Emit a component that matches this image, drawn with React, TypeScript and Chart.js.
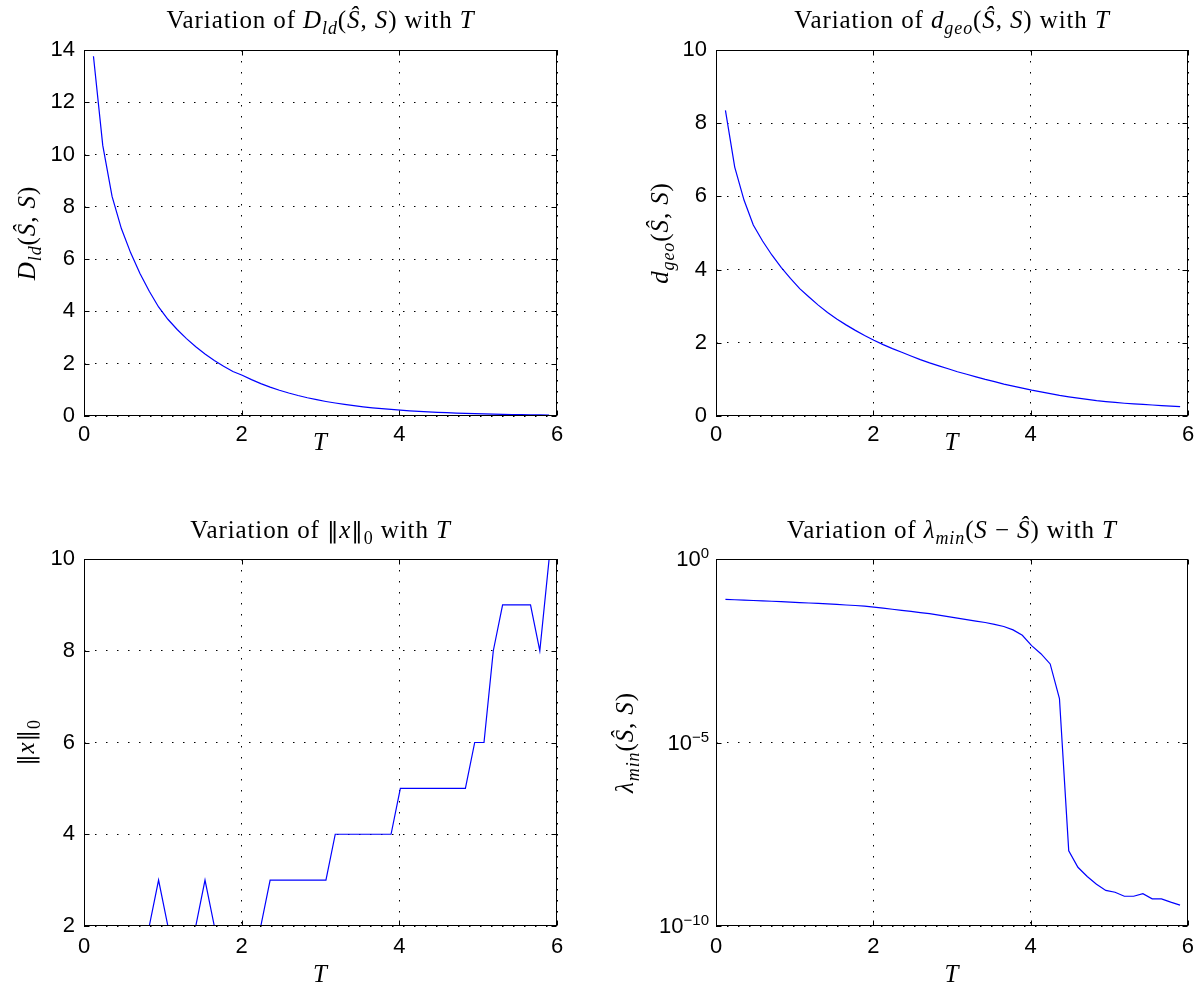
import React, { useEffect, useRef } from "react";
import { Chart, registerables } from "chart.js";

Chart.register(...registerables);

// ---------- data ----------
const T = [
  0.12, 0.238, 0.356, 0.474, 0.592, 0.71, 0.828, 0.946, 1.064, 1.182,
  1.3, 1.418, 1.535, 1.653, 1.771, 1.889, 2.007, 2.125, 2.243, 2.361,
  2.479, 2.597, 2.715, 2.833, 2.951, 3.069, 3.187, 3.305, 3.423, 3.541,
  3.659, 3.777, 3.895, 4.013, 4.131, 4.249, 4.367, 4.485, 4.602, 4.72,
  4.838, 4.956, 5.074, 5.192, 5.31, 5.428, 5.546, 5.664, 5.782, 5.9,
];

const dld = [
  13.76, 10.35, 8.4, 7.17, 6.24, 5.45, 4.77, 4.17, 3.7, 3.31,
  2.96, 2.65, 2.37, 2.12, 1.9, 1.7, 1.56, 1.39, 1.24, 1.105,
  0.985, 0.879, 0.784, 0.699, 0.624, 0.556, 0.496, 0.442, 0.394, 0.352,
  0.314, 0.28, 0.25, 0.222, 0.198, 0.177, 0.158, 0.141, 0.126, 0.112,
  0.1, 0.089, 0.08, 0.071, 0.063, 0.056, 0.05, 0.045, 0.04, 0.036,
];

const dgeo = [
  8.35, 6.8, 5.9, 5.22, 4.78, 4.4, 4.06, 3.76, 3.48, 3.25,
  3.03, 2.83, 2.65, 2.49, 2.34, 2.2, 2.07, 1.95, 1.84, 1.74,
  1.64, 1.54, 1.45, 1.37, 1.29, 1.21, 1.14, 1.07, 1.0, 0.94,
  0.87, 0.815, 0.76, 0.705, 0.657, 0.611, 0.564, 0.524, 0.489, 0.453,
  0.418, 0.395, 0.372, 0.349, 0.33, 0.315, 0.3, 0.285, 0.27, 0.255,
];

const l0 = [
  2, 2, 2, 2, 2, 2, 2, 3, 2, 2,
  2, 2, 3, 2, 2, 2, 2, 2, 2, 3,
  3, 3, 3, 3, 3, 3, 4, 4, 4, 4,
  4, 4, 4, 5, 5, 5, 5, 5, 5, 5,
  5, 6, 6, 8, 9, 9, 9, 9, 8, 10,
];

const lambdaMin = [
  7.94e-2, 7.76e-2, 7.59e-2, 7.41e-2, 7.23e-2, 7.05e-2, 6.87e-2, 6.68e-2, 6.5e-2, 6.32e-2,
  6.14e-2, 5.96e-2, 5.77e-2, 5.58e-2, 5.4e-2, 5.2e-2, 4.9e-2, 4.57e-2, 4.27e-2, 3.98e-2,
  3.72e-2, 3.47e-2, 3.24e-2, 2.95e-2, 2.69e-2, 2.45e-2, 2.24e-2, 2.04e-2, 1.86e-2, 1.66e-2,
  1.45e-2, 1.17e-2, 8.32e-3, 4.37e-3, 2.63e-3, 1.38e-3, 1.58e-4, 1.12e-8, 3.98e-9, 2.24e-9,
  1.38e-9, 9.33e-10, 8.32e-10, 6.46e-10, 6.46e-10, 7.59e-10, 5.5e-10, 5.5e-10, 4.47e-10, 3.72e-10,
];

const xTicks = [0, 2, 4, 6];
const dldTicks = [0, 2, 4, 6, 8, 10, 12, 14];
const dgeoTicks = [0, 2, 4, 6, 8, 10];
const l0Ticks = [2, 4, 6, 8, 10];
const lambdaTicks = [1e-10, 1e-5, 1];

// ---------- text helpers ----------
type Seg = { t: string; it?: boolean; sub?: boolean; alt?: boolean };

const SERIF = '"Liberation Serif", "Times New Roman", serif';
const ALT_SERIF = '"DejaVu Serif", serif';
const SANS = '"Liberation Sans", Arial, sans-serif';
const TEXT_SIZE = 25;
const TICK_SIZE = 22;
const EXP_SIZE = 15;

function segFont(s: Seg, size: number) {
  const sz = s.sub ? Math.round(size * 0.7) : s.alt ? Math.round(size * 0.9) : size;
  return `${s.it ? "italic " : ""}${sz}px ${s.alt ? ALT_SERIF : SERIF}`;
}

function drawRich(ctx: CanvasRenderingContext2D, segs: Seg[], x: number, y: number, size: number, rotate: boolean) {
  ctx.save();
  ctx.translate(x, y);
  if (rotate) ctx.rotate(-Math.PI / 2);
  ctx.textAlign = "left";
  ctx.textBaseline = "alphabetic";
  ctx.fillStyle = "#000";
  (ctx as any).letterSpacing = "0.9px";
  const widths = segs.map((s) => {
    ctx.font = segFont(s, size);
    return ctx.measureText(s.t).width;
  });
  const total = widths.reduce((a, b) => a + b, 0);
  let cx = -total / 2;
  segs.forEach((s, i) => {
    ctx.font = segFont(s, size);
    ctx.fillText(s.t, cx, s.sub ? size * 0.24 : 0);
    cx += widths[i];
  });
  ctx.restore();
}

const matlabPlugin = {
  id: "matlab",
  afterDraw(chart: any, _args: any, opts: any) {
    const ctx: CanvasRenderingContext2D = chart.ctx;
    const a = chart.chartArea;
    const xs = chart.scales.x;
    const ys = chart.scales.y;
    ctx.save();
    ctx.setLineDash([]);
    ctx.strokeStyle = "#000";
    ctx.lineWidth = 1;
    const L = Math.round(a.left) + 0.5;
    const R = Math.round(a.right) - 0.5;
    const Tp = Math.round(a.top) + 0.5;
    const B = Math.round(a.bottom) - 0.5;
    ctx.strokeRect(L, Tp, R - L, B - Tp);
    const tl = 5;
    ctx.beginPath();
    xs.ticks.forEach((t: any) => {
      const px = Math.round(xs.getPixelForValue(t.value)) + 0.5;
      ctx.moveTo(px, B);
      ctx.lineTo(px, B - tl);
      ctx.moveTo(px, Tp);
      ctx.lineTo(px, Tp + tl);
    });
    ys.ticks.forEach((t: any) => {
      const py = Math.round(ys.getPixelForValue(t.value)) + 0.5;
      ctx.moveTo(L, py);
      ctx.lineTo(L + tl, py);
      ctx.moveTo(R, py);
      ctx.lineTo(R - tl, py);
    });
    ctx.stroke();

    if (opts.logLabels) {
      ys.ticks.forEach((t: any) => {
        const py = ys.getPixelForValue(t.value);
        const e = Math.round(Math.log10(t.value));
        const ex = e === 0 ? "0" : "\u2212" + Math.abs(e);
        const right = a.left - 7;
        ctx.fillStyle = "#000";
        ctx.textAlign = "right";
        ctx.textBaseline = "alphabetic";
        ctx.font = `${EXP_SIZE}px ${SANS}`;
        const ew = ctx.measureText(ex).width;
        ctx.fillText(ex, right, py - 1);
        ctx.font = `${TICK_SIZE}px ${SANS}`;
        ctx.textBaseline = "middle";
        ctx.fillText("10", right - ew, py + 1);
      });
    }

    drawRich(ctx, opts.title, (a.left + a.right) / 2, a.top - opts.titleGap, TEXT_SIZE, false);
    drawRich(ctx, opts.xlabel, (a.left + a.right) / 2, a.bottom + opts.xlabelGap, TEXT_SIZE, false);
    drawRich(ctx, opts.ylabel, opts.ylabelX, (a.top + a.bottom) / 2, TEXT_SIZE, true);
    ctx.restore();
  },
};

// ---------- panels ----------
const hatS = "\u015C";
const NORM = "\u2016";
const xLabel: Seg[] = [{ t: "T", it: true }];

type Panel = {
  left: number; top: number; w: number; h: number;
  yW: number; padTop: number; padRight: number; xH: number;
  values: number[]; yTicks: number[]; yMin: number; yMax: number; log?: boolean;
  title: Seg[]; ylabel: Seg[]; ylabelX: number; titleGap: number; xlabelGap: number; xPad: number;
};

const panels: Panel[] = [
  {
    left: 0, top: 0, w: 600, h: 490, yW: 84, padTop: 50, padRight: 43, xH: 74,
    values: dld, yTicks: dldTicks, yMin: 0, yMax: 14,
    title: [
      { t: "Variation of " }, { t: "D", it: true }, { t: "ld", it: true, sub: true },
      { t: "(" }, { t: hatS, it: true }, { t: ", " }, { t: "S", it: true }, { t: ")" },
      { t: " with " }, { t: "T", it: true },
    ],
    ylabel: [
      { t: "D", it: true }, { t: "ld", it: true, sub: true },
      { t: "(" }, { t: hatS, it: true }, { t: ", " }, { t: "S", it: true }, { t: ")" },
    ],
    ylabelX: 35, titleGap: 22, xlabelGap: 34, xPad: 6,
  },
  {
    left: 601, top: 0, w: 601, h: 490, yW: 115, padTop: 50, padRight: 14, xH: 74,
    values: dgeo, yTicks: dgeoTicks, yMin: 0, yMax: 10,
    title: [
      { t: "Variation of " }, { t: "d", it: true }, { t: "geo", it: true, sub: true },
      { t: "(" }, { t: hatS, it: true }, { t: ", " }, { t: "S", it: true }, { t: ")" },
      { t: " with " }, { t: "T", it: true },
    ],
    ylabel: [
      { t: "d", it: true }, { t: "geo", it: true, sub: true },
      { t: "(" }, { t: hatS, it: true }, { t: ", " }, { t: "S", it: true }, { t: ")" },
    ],
    ylabelX: 67, titleGap: 22, xlabelGap: 34, xPad: 6,
  },
  {
    left: 0, top: 490, w: 600, h: 500, yW: 84, padTop: 69, padRight: 43, xH: 64,
    values: l0, yTicks: l0Ticks, yMin: 2, yMax: 10,
    title: [
      { t: "Variation of " }, { t: NORM, alt: true }, { t: "x", it: true }, { t: NORM, alt: true }, { t: "0", sub: true },
      { t: " with " }, { t: "T", it: true },
    ],
    ylabel: [{ t: NORM, alt: true }, { t: "x", it: true }, { t: NORM, alt: true }, { t: "0", sub: true }],
    ylabelX: 34, titleGap: 21, xlabelGap: 56, xPad: 8,
  },
  {
    left: 601, top: 490, w: 601, h: 500, yW: 115, padTop: 69, padRight: 14, xH: 64,
    values: lambdaMin, yTicks: lambdaTicks, yMin: 1e-10, yMax: 1, log: true,
    title: [
      { t: "Variation of " }, { t: "\u03BB", it: true }, { t: "min", it: true, sub: true },
      { t: "(" }, { t: "S", it: true }, { t: " \u2212 " }, { t: hatS, it: true }, { t: ")" },
      { t: " with " }, { t: "T", it: true },
    ],
    ylabel: [
      { t: "\u03BB", it: true }, { t: "min", it: true, sub: true },
      { t: "(" }, { t: hatS, it: true }, { t: ", " }, { t: "S", it: true }, { t: ")" },
    ],
    ylabelX: 32, titleGap: 21, xlabelGap: 56, xPad: 8,
  },
];

function makeConfig(p: Panel): any {
  const tickFont = { family: SANS, size: TICK_SIZE };
  const grid = { color: "#000", lineWidth: 1, drawTicks: false };
  const border = { display: false, dash: [1.5, 9.5] };
  return {
    type: "line",
    data: {
      datasets: [
        {
          data: T.map((t, i) => ({ x: t, y: p.values[i] })),
          borderColor: "#0000ff",
          borderWidth: 1.2,
          pointRadius: 0,
          tension: 0,
          fill: false,
        },
      ],
    },
    options: {
      animation: false,
      responsive: false,
      events: [],
      layout: { padding: { top: p.padTop, right: p.padRight, left: 0, bottom: 0 } },
      plugins: {
        legend: { display: false },
        tooltip: { enabled: false },
        title: { display: false },
        matlab: {
          title: p.title,
          xlabel: xLabel,
          ylabel: p.ylabel,
          ylabelX: p.ylabelX,
          titleGap: p.titleGap,
          xlabelGap: p.xlabelGap,
          logLabels: !!p.log,
        },
      },
      scales: {
        x: {
          type: "linear",
          min: 0,
          max: 6,
          afterBuildTicks: (s: any) => {
            s.ticks = xTicks.map((v) => ({ value: v }));
          },
          afterFit: (s: any) => {
            s.height = p.xH;
          },
          ticks: { font: tickFont, color: "#000", padding: p.xPad, maxRotation: 0 },
          grid,
          border,
        },
        y: {
          type: p.log ? "logarithmic" : "linear",
          min: p.yMin,
          max: p.yMax,
          afterBuildTicks: (s: any) => {
            s.ticks = p.yTicks.map((v) => ({ value: v }));
          },
          afterFit: (s: any) => {
            s.width = p.yW;
          },
          ticks: {
            display: !p.log,
            font: tickFont,
            color: "#000",
            padding: 9,
            callback: (v: any) => String(v),
          },
          grid,
          border,
        },
      },
    },
    plugins: [matlabPlugin],
  };
}

function PanelChart({ p }: { p: Panel }) {
  const ref = useRef<HTMLCanvasElement>(null);
  useEffect(() => {
    const chart = new Chart(ref.current as HTMLCanvasElement, makeConfig(p));
    return () => chart.destroy();
  }, []);
  return (
    <div style={{ position: "absolute", left: p.left, top: p.top, width: p.w, height: p.h }}>
      <canvas ref={ref} width={p.w} height={p.h} style={{ width: p.w, height: p.h, display: "block" }} />
    </div>
  );
}

export default function App() {
  return (
    <div style={{ position: "absolute", left: 0, top: 0, width: 1202, height: 990, background: "#fff" }}>
      {panels.map((p, i) => (
        <PanelChart key={i} p={p} />
      ))}
    </div>
  );
}
